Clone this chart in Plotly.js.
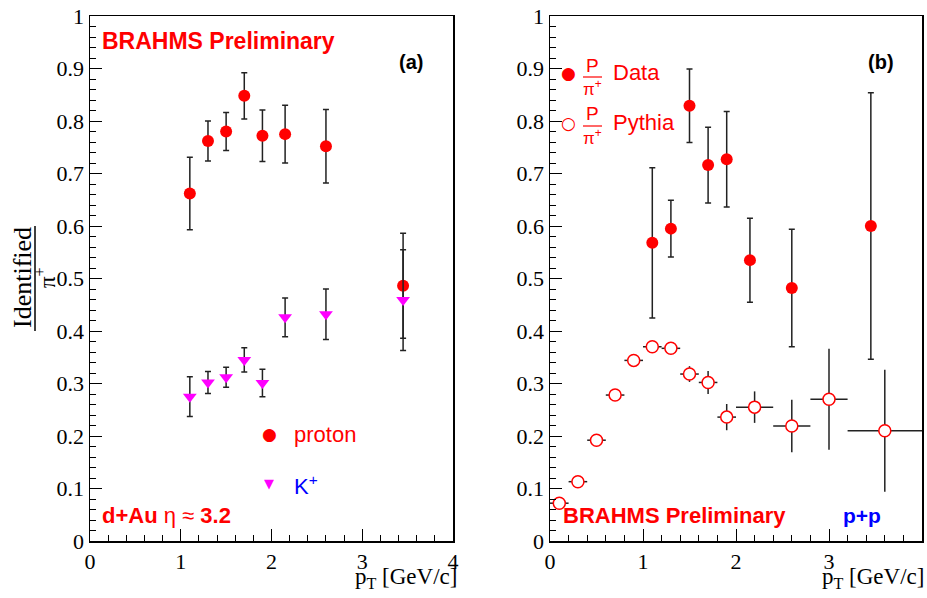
<!DOCTYPE html>
<html><head><meta charset="utf-8">
<script src="https://cdn.plot.ly/plotly-3.0.1.min.js"></script>
<style>
html,body{margin:0;padding:0;background:#fff}
#chart .xtick text, #chart .ytick text, #chart .x2tick text, #chart .y2tick text{font-family:"Liberation Serif", "Times New Roman", serif !important;}
</style>
</head><body><div id="chart" style="width:927px;height:598px"></div>
<script>
// ---- data: panel (a) d+Au ----
var ptDAu      = [1.1, 1.3, 1.5, 1.7, 1.9, 2.15, 2.6, 3.45];
var protonRatio= [0.662, 0.762, 0.780, 0.848, 0.772, 0.775, 0.752, 0.486];
var protonErr  = [0.069, 0.038, 0.036, 0.044, 0.049, 0.055, 0.070, 0.100];
var kaonRatio  = [0.275, 0.302, 0.312, 0.345, 0.301, 0.426, 0.432, 0.459];
var kaonErr    = [0.038, 0.021, 0.019, 0.023, 0.026, 0.037, 0.048, 0.096];
// ---- data: panel (b) p+p ----
var ptPP       = [1.1, 1.3, 1.5, 1.7, 1.9, 2.15, 2.6, 3.45];
var ppData     = [0.568, 0.595, 0.829, 0.716, 0.727, 0.535, 0.482, 0.600];
var ppDataErr  = [0.143, 0.054, 0.070, 0.072, 0.091, 0.080, 0.112, 0.254];
var ptPythia   = [0.1, 0.3, 0.5, 0.7, 0.9, 1.1, 1.3, 1.5, 1.7, 1.9, 2.2, 2.6, 3.0, 3.6];
var pythia     = [0.072, 0.113, 0.192, 0.278, 0.344, 0.370, 0.367, 0.318, 0.302, 0.236, 0.255, 0.219, 0.270, 0.210];
var pythiaYErr = [0.004, 0.004, 0.005, 0.006, 0.007, 0.008, 0.008, 0.015, 0.022, 0.025, 0.030, 0.050, 0.096, 0.116];
var pythiaXErr = [0.1, 0.1, 0.1, 0.1, 0.1, 0.1, 0.1, 0.1, 0.1, 0.1, 0.2, 0.2, 0.2, 0.4];
var xTickVals  = [0, 1, 2, 3, 4];

var RED = '#ff0000', MAG = '#ff00ff', BLUE = '#0000ff';
var SERIF = 'Liberation Serif';
var W = 927, H = 598, TOP = 16, BOT = 541;
function px(x){ return x / W; }
function py(y){ return (BOT - y) / (BOT - TOP); }

var ebar = {type:'data', visible:true, color:'#222', thickness:1.5, width:3};

var traces = [
  {x: ptDAu, y: protonRatio, xaxis:'x', yaxis:'y', mode:'markers', type:'scatter',
   marker:{symbol:'circle', size:12, color:RED},
   error_y: Object.assign({array: protonErr}, ebar)},
  {x: ptDAu, y: kaonRatio, xaxis:'x', yaxis:'y', mode:'markers', type:'scatter',
   marker:{symbol:'triangle-down', size:12, color:MAG},
   error_y: Object.assign({array: kaonErr}, ebar)},
  {x: ptPythia, y: pythia, xaxis:'x2', yaxis:'y2', mode:'markers', type:'scatter',
   marker:{symbol:'circle', size:12, color:'#ffffff', line:{color:RED, width:1.5}},
   error_y: {type:'data', array: pythiaYErr, color:'#222', thickness:1.5, width:0},
   error_x: {type:'data', array: pythiaXErr, color:'#222', thickness:1.5, width:0}},
  {x: ptPP, y: ppData, xaxis:'x2', yaxis:'y2', mode:'markers', type:'scatter',
   marker:{symbol:'circle', size:12, color:RED},
   error_y: Object.assign({array: ppDataErr}, ebar)}
];

function axisBase(extra){
  return Object.assign({
    showline:true, linecolor:'#000', linewidth:1.5, mirror:true,
    ticks:'inside', ticklen:12, tickwidth:1, tickcolor:'#000',
    showgrid:false, zeroline:false, fixedrange:true,
    tickfont:{family:SERIF, size:22, color:'#000'}
  }, extra);
}

var sansB = 'Liberation Sans';
function ann(text, x, y, opts){
  return Object.assign({text:text, x:px(x), y:py(y), xref:'paper', yref:'paper',
    showarrow:false, xanchor:'left', yanchor:'middle',
    font:{family:sansB, size:22, color:RED}}, opts || {});
}

var annotations = [
  ann('<b>BRAHMS Preliminary</b>', 100, 41, {font:{family:sansB, size:23, color:RED}}),
  ann('<b>(a)</b>', 411, 62, {xanchor:'center', font:{family:sansB, size:20, color:'#000'}}),
  ann('●', 269, 434, {xanchor:'center', font:{family:'DejaVu Sans', size:17, color:RED}}),
  ann('proton', 292, 434),
  ann('▼', 269, 483, {xanchor:'center', font:{family:'DejaVu Sans', size:13, color:MAG}}),
  ann('K<sup>+</sup>', 292, 485, {font:{family:sansB, size:22, color:BLUE}}),
  ann('<b>d+Au</b> η ≈ <b>3.2</b>', 100, 515),
  ann('p<sub>T</sub> [GeV/c]', 459, 578, {xanchor:'right', font:{family:SERIF, size:23, color:'#000'}}),
  ann('p<sub>T</sub> [GeV/c]', 926, 578, {xanchor:'right', font:{family:SERIF, size:23, color:'#000'}}),
  ann('Identified', 22, 278, {xanchor:'center', textangle:-90, font:{family:SERIF, size:26, color:'#000'}}),
  ann('π<sup>+</sup>', 45, 278, {xanchor:'center', textangle:-90, font:{family:SERIF, size:23, color:'#000'}}),
  // right legend
  ann('●', 568, 73, {xanchor:'center', font:{family:'DejaVu Sans', size:17, color:RED}}),
  ann('P', 592, 65, {xanchor:'center', font:{family:sansB, size:19, color:RED}}),
  ann('π<sup>+</sup>', 592, 88, {xanchor:'center', font:{family:sansB, size:17, color:RED}}),
  ann('Data', 611, 73),
  ann('○', 568, 123, {xanchor:'center', font:{family:'DejaVu Sans', size:17, color:RED}}),
  ann('P', 592, 114, {xanchor:'center', font:{family:sansB, size:19, color:RED}}),
  ann('π<sup>+</sup>', 592, 137, {xanchor:'center', font:{family:sansB, size:17, color:RED}}),
  ann('Pythia', 611, 123),
  ann('<b>(b)</b>', 881, 62, {xanchor:'center', font:{family:sansB, size:20, color:'#000'}}),
  ann('<b>BRAHMS Preliminary</b>', 561, 515, {font:{family:sansB, size:22, color:RED}}),
  ann('<b>p+p</b>', 841, 515, {font:{family:sansB, size:21, color:BLUE}})
];

var shapes = [
  {type:'line', xref:'paper', yref:'paper', x0:px(35), x1:px(35), y0:py(226), y1:py(331), line:{color:'#000', width:1.5}},
  {type:'line', xref:'paper', yref:'paper', x0:px(583), x1:px(602), y0:py(77), y1:py(77), line:{color:RED, width:1.2}},
  {type:'line', xref:'paper', yref:'paper', x0:px(583), x1:px(602), y0:py(126), y1:py(126), line:{color:RED, width:1.2}}
];

var layout = {
  width:W, height:H, margin:{l:0, r:0, t:TOP, b:H-BOT},
  paper_bgcolor:'#fff', plot_bgcolor:'#fff', showlegend:false,
  font:{family:SERIF, size:22, color:'#000'},
  xaxis: axisBase({domain:[px(90), px(453)], range:[0,4], tickvals:xTickVals, anchor:'y',
    minor:{ticks:'inside', ticklen:6, dtick:0.2, tickcolor:'#000', tickwidth:1}}),
  yaxis: axisBase({domain:[0,1], range:[0,1], dtick:0.1, anchor:'x',
    minor:{ticks:'inside', ticklen:6, dtick:0.02, tickcolor:'#000', tickwidth:1}}),
  xaxis2: axisBase({domain:[px(550), px(922)], range:[0,4], tickvals:xTickVals, anchor:'y2',
    minor:{ticks:'inside', ticklen:6, dtick:0.2, tickcolor:'#000', tickwidth:1}}),
  yaxis2: axisBase({domain:[0,1], range:[0,1], dtick:0.1, anchor:'x2',
    minor:{ticks:'inside', ticklen:6, dtick:0.02, tickcolor:'#000', tickwidth:1}}),
  annotations: annotations,
  shapes: shapes
};

Plotly.newPlot('chart', traces, layout, {displayModeBar:false, staticPlot:true});
</script></body></html>
